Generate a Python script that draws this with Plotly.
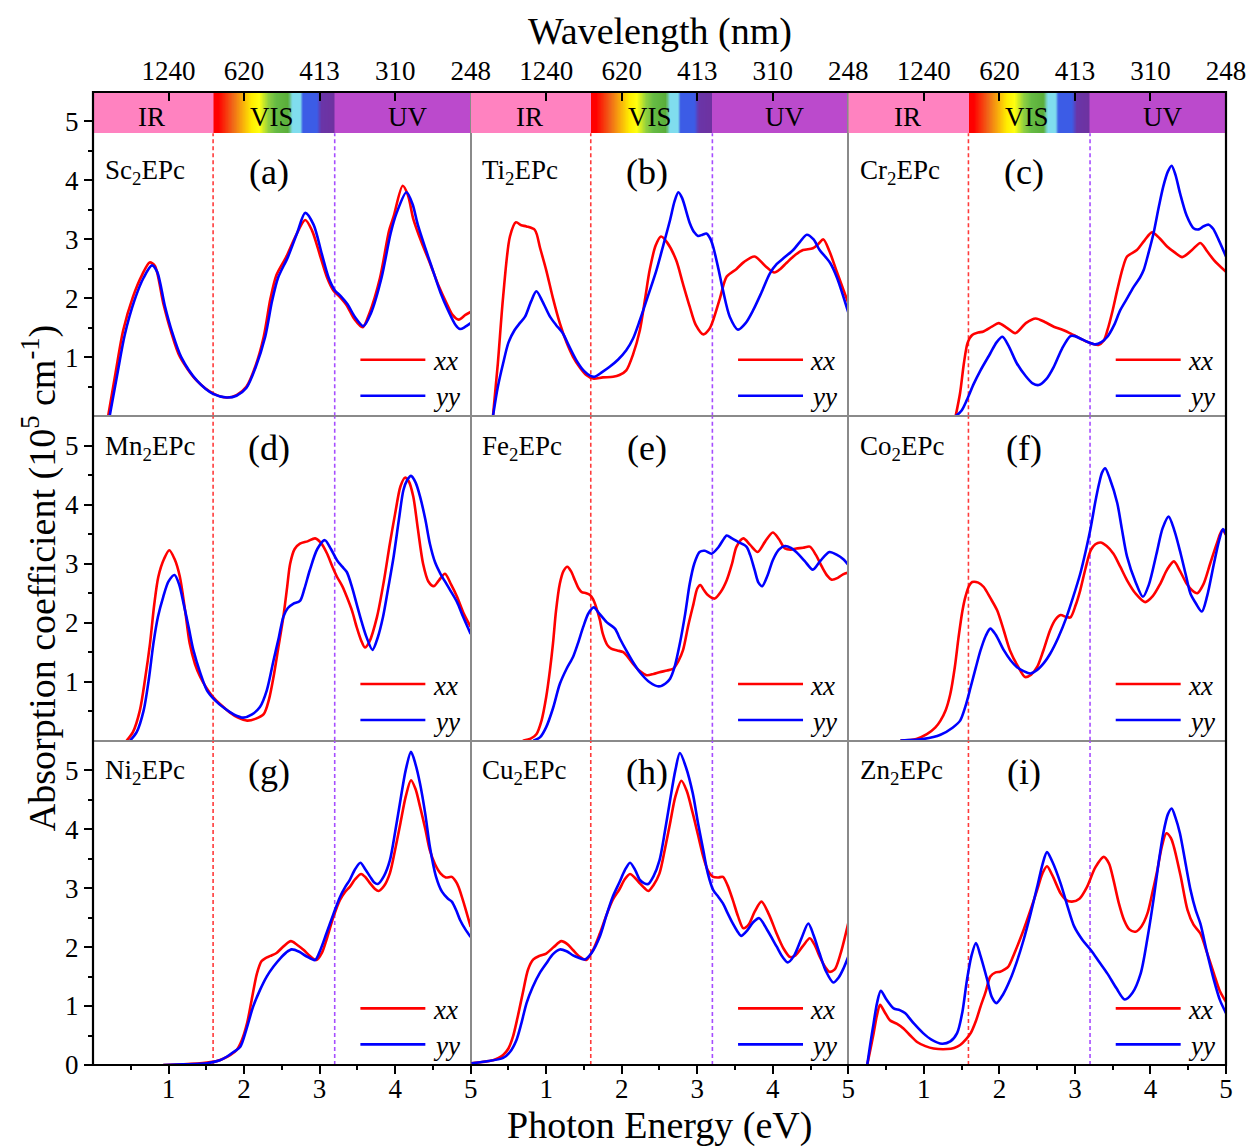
import numpy as np
import plotly.graph_objects as go

# ---------------------------------------------------------------- data
# Absorption spectra: (photon energy in eV, absorption coefficient in 1e5 cm^-1)
SC_XX = [(0.20,0),(0.30,0.75),(0.40,1.46),(0.53,2.03),(0.65,2.40),(0.75,2.61),(0.82,2.55),(0.93,1.92),(1.03,1.45),(1.15,1.01),(1.37,0.61),(1.59,0.39),(1.77,0.32),(1.90,0.36),(2.03,0.50),(2.15,0.85),(2.26,1.35),(2.35,2.0),(2.43,2.40),(2.56,2.71),(2.68,3.05),(2.81,3.33),(2.90,3.15),(3.01,2.71),(3.10,2.35),(3.18,2.14),(3.27,2.02),(3.36,1.88),(3.46,1.65),(3.57,1.51),(3.66,1.75),(3.80,2.35),(3.92,3.15),(3.98,3.39),(4.10,3.91),(4.17,3.75),(4.24,3.35),(4.35,2.95),(4.46,2.60),(4.58,2.20),(4.68,1.92),(4.76,1.72),(4.84,1.64),(4.93,1.72),(5.0,1.77)]
SC_YY = [(0.22,0),(0.32,0.7),(0.42,1.38),(0.55,1.97),(0.67,2.35),(0.78,2.56),(0.85,2.45),(0.95,1.88),(1.05,1.42),(1.17,1.0),(1.38,0.60),(1.59,0.38),(1.77,0.32),(1.90,0.35),(2.03,0.48),(2.15,0.82),(2.28,1.35),(2.37,1.95),(2.45,2.35),(2.58,2.70),(2.70,3.10),(2.81,3.45),(2.92,3.25),(3.03,2.75),(3.12,2.35),(3.20,2.14),(3.28,2.04),(3.37,1.90),(3.47,1.68),(3.58,1.53),(3.68,1.75),(3.82,2.35),(3.94,3.10),(4.02,3.45),(4.15,3.80),(4.23,3.60),(4.30,3.25),(4.40,2.85),(4.48,2.55),(4.60,2.10),(4.70,1.80),(4.80,1.55),(4.86,1.48),(4.93,1.52),(5.0,1.58)]

TI_XX = [(0.295,0),(0.36,0.9),(0.43,2.03),(0.52,3.05),(0.60,3.29),(0.67,3.24),(0.74,3.22),(0.85,3.16),(0.92,2.85),(1.00,2.48),(1.09,2.0),(1.18,1.58),(1.27,1.25),(1.355,1.01),(1.45,0.82),(1.53,0.70),(1.62,0.64),(1.75,0.66),(1.885,0.67),(1.97,0.70),(2.06,0.78),(2.15,1.05),(2.24,1.46),(2.31,2.0),(2.37,2.48),(2.45,2.90),(2.52,3.05),(2.60,2.95),(2.72,2.65),(2.81,2.25),(2.90,1.86),(2.98,1.55),(3.08,1.39),(3.16,1.48),(3.21,1.63),(3.30,2.0),(3.39,2.37),(3.52,2.50),(3.62,2.62),(3.76,2.71),(3.90,2.55),(4.02,2.44),(4.10,2.50),(4.18,2.60),(4.30,2.74),(4.40,2.82),(4.53,2.85),(4.60,2.92),(4.67,3.00),(4.75,2.80),(4.84,2.48),(4.92,2.20),(5.0,1.92)]
TI_YY = [(0.295,0),(0.36,0.5),(0.43,0.90),(0.50,1.25),(0.58,1.46),(0.65,1.58),(0.72,1.69),(0.80,1.95),(0.87,2.12),(0.95,1.95),(1.05,1.69),(1.13,1.55),(1.22,1.41),(1.30,1.20),(1.40,0.95),(1.50,0.77),(1.58,0.69),(1.64,0.67),(1.74,0.75),(1.84,0.84),(1.95,0.96),(2.06,1.12),(2.15,1.32),(2.24,1.63),(2.35,2.05),(2.46,2.48),(2.55,2.90),(2.64,3.33),(2.70,3.65),(2.75,3.80),(2.80,3.70),(2.90,3.28),(2.96,3.12),(3.01,3.06),(3.07,3.08),(3.12,3.10),(3.17,3.02),(3.21,2.88),(3.28,2.50),(3.34,2.14),(3.43,1.69),(3.54,1.47),(3.64,1.58),(3.74,1.80),(3.85,2.10),(3.96,2.42),(4.05,2.58),(4.14,2.68),(4.27,2.82),(4.36,2.96),(4.45,3.08),(4.54,3.00),(4.62,2.82),(4.70,2.70),(4.76,2.60),(4.85,2.35),(5.0,1.76)]

CR_XX = [(1.42,0),(1.48,0.40),(1.53,0.90),(1.58,1.25),(1.64,1.38),(1.72,1.42),(1.79,1.44),(1.90,1.52),(1.99,1.58),(2.10,1.50),(2.21,1.41),(2.35,1.58),(2.48,1.66),(2.60,1.60),(2.72,1.52),(2.85,1.46),(2.98,1.38),(3.15,1.27),(3.31,1.21),(3.38,1.28),(3.43,1.46),(3.50,1.80),(3.56,2.14),(3.63,2.50),(3.69,2.71),(3.82,2.82),(3.92,2.98),(4.02,3.12),(4.12,3.02),(4.22,2.88),(4.32,2.78),(4.42,2.70),(4.55,2.82),(4.66,2.94),(4.75,2.80),(4.84,2.65),(5.0,2.45)]
CR_YY = [(1.42,0),(1.50,0.10),(1.57,0.28),(1.66,0.55),(1.75,0.78),(1.88,1.07),(1.96,1.25),(2.04,1.35),(2.12,1.20),(2.23,0.90),(2.35,0.68),(2.44,0.56),(2.52,0.53),(2.62,0.63),(2.72,0.84),(2.83,1.15),(2.94,1.36),(3.00,1.36),(3.07,1.32),(3.17,1.26),(3.27,1.22),(3.35,1.26),(3.43,1.35),(3.52,1.55),(3.60,1.80),(3.70,2.02),(3.78,2.20),(3.86,2.35),(3.91,2.48),(3.97,2.75),(4.04,3.10),(4.11,3.55),(4.17,3.90),(4.23,4.15),(4.28,4.25),(4.33,4.10),(4.39,3.79),(4.48,3.40),(4.57,3.19),(4.64,3.17),(4.70,3.22),(4.77,3.25),(4.83,3.18),(4.90,3.00),(5.0,2.71)]

MN_XX = [(0.445,0),(0.53,0.15),(0.62,0.51),(0.69,1.05),(0.755,1.65),(0.81,2.30),(0.865,2.78),(0.94,3.08),(1.01,3.23),(1.08,3.08),(1.15,2.78),(1.22,2.20),(1.28,1.65),(1.35,1.30),(1.42,1.08),(1.50,0.90),(1.59,0.74),(1.70,0.60),(1.81,0.48),(1.92,0.39),(2.04,0.34),(2.15,0.37),(2.26,0.45),(2.33,0.70),(2.39,1.08),(2.45,1.55),(2.52,2.10),(2.57,2.60),(2.61,3.00),(2.67,3.25),(2.74,3.34),(2.84,3.38),(2.94,3.43),(3.02,3.35),(3.10,3.17),(3.17,2.95),(3.23,2.78),(3.30,2.62),(3.36,2.44),(3.43,2.20),(3.49,1.93),(3.55,1.70),(3.60,1.58),(3.66,1.68),(3.76,2.10),(3.85,2.70),(3.93,3.34),(4.00,3.85),(4.07,4.31),(4.13,4.46),(4.18,4.40),(4.24,4.14),(4.30,3.60),(4.37,3.00),(4.44,2.70),(4.51,2.62),(4.58,2.72),(4.66,2.83),(4.74,2.65),(4.82,2.44),(4.91,2.15),(5.0,1.93)]
MN_YY = [(0.49,0),(0.58,0.15),(0.67,0.51),(0.74,1.05),(0.80,1.65),(0.86,2.10),(0.93,2.44),(1.00,2.70),(1.08,2.81),(1.14,2.65),(1.20,2.32),(1.27,1.90),(1.33,1.53),(1.42,1.15),(1.51,0.85),(1.62,0.68),(1.75,0.54),(1.87,0.44),(1.99,0.39),(2.10,0.44),(2.21,0.57),(2.30,0.85),(2.39,1.36),(2.46,1.75),(2.52,2.10),(2.58,2.25),(2.65,2.32),(2.74,2.37),(2.80,2.58),(2.87,2.89),(2.97,3.25),(3.07,3.40),(3.15,3.25),(3.23,3.06),(3.30,2.95),(3.36,2.86),(3.43,2.60),(3.49,2.32),(3.56,2.00),(3.62,1.76),(3.70,1.54),(3.77,1.75),(3.84,2.10),(3.91,2.60),(3.98,3.12),(4.05,3.75),(4.11,4.25),(4.16,4.42),(4.21,4.49),(4.27,4.38),(4.33,4.14),(4.40,3.75),(4.46,3.34),(4.53,3.02),(4.60,2.83),(4.66,2.70),(4.73,2.55),(4.82,2.35),(4.90,2.10),(5.0,1.81)]

FE_XX = [(0.69,0),(0.80,0.04),(0.87,0.11),(0.94,0.35),(1.00,0.74),(1.05,1.20),(1.09,1.65),(1.13,2.20),(1.18,2.66),(1.23,2.88),(1.28,2.95),(1.33,2.87),(1.38,2.72),(1.43,2.58),(1.47,2.52),(1.53,2.50),(1.58,2.47),(1.62,2.40),(1.66,2.27),(1.71,2.05),(1.75,1.81),(1.81,1.62),(1.86,1.56),(1.94,1.53),(2.02,1.50),(2.08,1.42),(2.15,1.30),(2.24,1.18),(2.33,1.11),(2.42,1.13),(2.50,1.16),(2.60,1.19),(2.68,1.22),(2.75,1.35),(2.81,1.53),(2.88,1.95),(2.95,2.32),(3.00,2.58),(3.04,2.64),(3.09,2.55),(3.14,2.47),(3.23,2.41),(3.31,2.52),(3.39,2.72),(3.46,3.00),(3.52,3.29),(3.61,3.43),(3.70,3.32),(3.80,3.20),(3.90,3.38),(4.00,3.53),(4.08,3.42),(4.16,3.26),(4.24,3.24),(4.31,3.26),(4.40,3.27),(4.49,3.29),(4.57,3.15),(4.65,2.95),(4.72,2.80),(4.78,2.73),(4.86,2.76),(4.93,2.82),(5.0,2.85)]
FE_YY = [(0.83,0),(0.92,0.06),(1.00,0.23),(1.09,0.55),(1.18,0.96),(1.27,1.22),(1.355,1.42),(1.42,1.65),(1.49,1.93),(1.56,2.16),(1.63,2.26),(1.70,2.16),(1.80,2.01),(1.91,1.90),(1.98,1.72),(2.06,1.53),(2.15,1.33),(2.24,1.16),(2.37,0.99),(2.49,0.92),(2.58,0.97),(2.64,1.05),(2.70,1.25),(2.77,1.65),(2.84,2.15),(2.90,2.66),(2.96,3.00),(3.03,3.20),(3.10,3.22),(3.19,3.17),(3.28,3.28),(3.34,3.40),(3.39,3.48),(3.46,3.43),(3.54,3.37),(3.65,3.29),(3.70,3.15),(3.76,2.89),(3.81,2.68),(3.86,2.62),(3.93,2.80),(4.00,3.06),(4.08,3.24),(4.16,3.30),(4.24,3.27),(4.31,3.20),(4.42,3.05),(4.53,2.90),(4.63,3.05),(4.75,3.20),(4.85,3.15),(4.93,3.08),(5.0,2.98)]

CO_XX = [(0.69,0),(0.90,0.03),(1.04,0.11),(1.15,0.22),(1.22,0.34),(1.29,0.52),(1.35,0.79),(1.41,1.25),(1.46,1.76),(1.51,2.20),(1.55,2.44),(1.60,2.63),(1.64,2.69),(1.72,2.68),(1.79,2.61),(1.88,2.42),(1.97,2.21),(2.06,1.86),(2.14,1.53),(2.25,1.25),(2.34,1.08),(2.42,1.12),(2.50,1.25),(2.58,1.52),(2.67,1.87),(2.74,2.05),(2.81,2.13),(2.88,2.10),(2.94,2.09),(3.01,2.30),(3.07,2.55),(3.14,2.92),(3.21,3.23),(3.27,3.33),(3.34,3.36),(3.42,3.30),(3.51,3.17),(3.60,2.95),(3.69,2.72),(3.80,2.50),(3.93,2.35),(4.03,2.45),(4.13,2.66),(4.22,2.90),(4.31,3.04),(4.39,2.88),(4.48,2.66),(4.55,2.55),(4.62,2.50),(4.70,2.65),(4.79,3.00),(4.88,3.35),(4.95,3.57),(5.0,3.49)]
CO_YY = [(0.69,0),(1.00,0.03),(1.22,0.10),(1.38,0.22),(1.48,0.34),(1.55,0.58),(1.62,0.91),(1.69,1.25),(1.75,1.53),(1.82,1.78),(1.88,1.90),(1.95,1.80),(2.06,1.53),(2.15,1.36),(2.23,1.25),(2.32,1.18),(2.41,1.14),(2.50,1.20),(2.59,1.32),(2.67,1.47),(2.78,1.75),(2.89,2.10),(2.98,2.45),(3.07,2.83),(3.14,3.20),(3.21,3.62),(3.27,4.05),(3.32,4.36),(3.36,4.55),(3.40,4.62),(3.46,4.45),(3.56,4.03),(3.62,3.60),(3.69,3.12),(3.80,2.70),(3.90,2.44),(3.98,2.65),(4.08,3.17),(4.16,3.60),(4.24,3.80),(4.32,3.55),(4.40,3.17),(4.47,2.80),(4.53,2.49),(4.60,2.33),(4.68,2.19),(4.75,2.45),(4.84,3.00),(4.91,3.40),(4.96,3.59),(5.0,3.50)]

NI_XX = [(0.93,0),(1.20,0.01),(1.51,0.04),(1.65,0.07),(1.73,0.11),(1.82,0.17),(1.90,0.25),(1.97,0.42),(2.04,0.71),(2.10,1.10),(2.17,1.55),(2.23,1.76),(2.28,1.81),(2.35,1.85),(2.43,1.90),(2.53,2.02),(2.62,2.10),(2.70,2.04),(2.79,1.95),(2.88,1.84),(2.96,1.78),(3.03,1.90),(3.09,2.12),(3.18,2.50),(3.27,2.80),(3.34,2.94),(3.40,3.02),(3.47,3.15),(3.55,3.24),(3.61,3.18),(3.67,3.08),(3.73,2.99),(3.78,2.95),(3.85,3.03),(3.93,3.25),(4.00,3.65),(4.07,4.10),(4.14,4.55),(4.21,4.83),(4.27,4.68),(4.33,4.38),(4.40,4.00),(4.46,3.64),(4.53,3.40),(4.60,3.25),(4.67,3.18),(4.75,3.19),(4.80,3.12),(4.84,3.02),(4.92,2.70),(5.0,2.34)]
NI_YY = [(0.93,0),(1.20,0.01),(1.51,0.03),(1.68,0.08),(1.77,0.14),(1.86,0.22),(1.95,0.31),(2.03,0.60),(2.12,0.99),(2.21,1.27),(2.30,1.50),(2.39,1.67),(2.48,1.81),(2.56,1.91),(2.63,1.96),(2.73,1.92),(2.83,1.84),(2.94,1.78),(3.01,1.95),(3.09,2.23),(3.18,2.55),(3.27,2.85),(3.34,3.02),(3.40,3.14),(3.47,3.32),(3.54,3.43),(3.60,3.33),(3.67,3.19),(3.72,3.10),(3.77,3.07),(3.85,3.20),(3.93,3.47),(4.00,3.95),(4.07,4.49),(4.14,5.00),(4.21,5.31),(4.27,5.10),(4.33,4.77),(4.40,4.25),(4.46,3.70),(4.54,3.20),(4.62,2.94),(4.70,2.82),(4.75,2.77),(4.81,2.62),(4.86,2.46),(4.93,2.30),(5.0,2.17)]

CU_XX = [(0.01,0.03),(0.15,0.05),(0.295,0.08),(0.37,0.12),(0.43,0.17),(0.50,0.28),(0.56,0.48),(0.62,0.80),(0.69,1.22),(0.76,1.62),(0.83,1.79),(0.91,1.85),(1.00,1.89),(1.10,2.00),(1.20,2.10),(1.28,2.05),(1.355,1.95),(1.44,1.84),(1.53,1.78),(1.62,1.95),(1.71,2.23),(1.80,2.55),(1.88,2.80),(1.97,2.98),(2.04,3.15),(2.11,3.24),(2.17,3.18),(2.24,3.08),(2.30,3.00),(2.35,2.95),(2.42,3.05),(2.50,3.25),(2.57,3.65),(2.64,4.10),(2.71,4.55),(2.79,4.82),(2.86,4.65),(2.94,4.27),(3.01,3.90),(3.08,3.53),(3.14,3.30),(3.21,3.19),(3.28,3.18),(3.34,3.19),(3.40,3.05),(3.47,2.80),(3.54,2.52),(3.61,2.32),(3.68,2.38),(3.76,2.60),(3.85,2.77),(3.95,2.55),(4.05,2.23),(4.14,1.98),(4.23,1.83),(4.30,1.86),(4.40,2.02),(4.49,2.15),(4.56,2.02),(4.62,1.84),(4.70,1.65),(4.75,1.58),(4.82,1.62),(4.90,1.90),(5.0,2.41)]
CU_YY = [(0.01,0.03),(0.20,0.06),(0.43,0.12),(0.52,0.22),(0.605,0.42),(0.67,0.70),(0.74,1.05),(0.82,1.32),(0.91,1.55),(1.00,1.72),(1.09,1.88),(1.18,1.96),(1.27,1.93),(1.355,1.86),(1.43,1.82),(1.51,1.79),(1.60,1.90),(1.71,2.18),(1.80,2.55),(1.88,2.85),(1.97,3.10),(2.04,3.30),(2.11,3.43),(2.18,3.30),(2.24,3.14),(2.30,3.08),(2.35,3.07),(2.42,3.20),(2.50,3.47),(2.57,3.95),(2.64,4.49),(2.71,5.00),(2.77,5.29),(2.85,5.05),(2.94,4.61),(3.01,4.10),(3.08,3.64),(3.14,3.25),(3.21,2.97),(3.28,2.85),(3.34,2.74),(3.40,2.58),(3.47,2.40),(3.53,2.27),(3.58,2.19),(3.66,2.28),(3.74,2.42),(3.82,2.49),(3.93,2.28),(4.05,2.01),(4.13,1.83),(4.20,1.74),(4.28,1.85),(4.38,2.15),(4.47,2.40),(4.54,2.20),(4.62,1.89),(4.70,1.60),(4.80,1.40),(4.87,1.48),(4.94,1.65),(5.0,1.84)]

ZN_XX = [(0.25,0),(0.29,0.25),(0.335,0.54),(0.38,0.85),(0.42,1.02),(0.48,0.90),(0.55,0.76),(0.64,0.70),(0.73,0.62),(0.82,0.50),(0.91,0.39),(1.02,0.32),(1.13,0.28),(1.31,0.27),(1.40,0.29),(1.48,0.34),(1.56,0.44),(1.62,0.54),(1.69,0.75),(1.75,0.99),(1.82,1.25),(1.88,1.50),(1.95,1.57),(2.01,1.58),(2.07,1.62),(2.12,1.67),(2.20,1.90),(2.32,2.29),(2.41,2.62),(2.50,2.97),(2.57,3.25),(2.63,3.37),(2.70,3.22),(2.81,2.91),(2.88,2.80),(2.96,2.77),(3.06,2.82),(3.16,3.02),(3.27,3.35),(3.38,3.53),(3.45,3.42),(3.51,3.14),(3.58,2.75),(3.65,2.46),(3.72,2.30),(3.80,2.26),(3.88,2.35),(3.96,2.57),(4.03,2.95),(4.09,3.30),(4.15,3.70),(4.21,3.93),(4.27,3.85),(4.31,3.70),(4.40,3.20),(4.49,2.63),(4.57,2.38),(4.66,2.23),(4.75,1.90),(4.84,1.55),(4.92,1.25),(5.0,1.07)]
ZN_YY = [(0.25,0),(0.29,0.35),(0.335,0.71),(0.38,1.05),(0.43,1.26),(0.50,1.12),(0.60,0.96),(0.68,0.93),(0.75,0.88),(0.87,0.70),(0.99,0.54),(1.10,0.43),(1.24,0.36),(1.35,0.40),(1.44,0.54),(1.51,0.90),(1.57,1.44),(1.63,1.85),(1.69,2.07),(1.75,1.85),(1.84,1.44),(1.90,1.15),(1.96,1.05),(2.05,1.20),(2.14,1.44),(2.23,1.75),(2.32,2.12),(2.41,2.55),(2.50,3.02),(2.57,3.40),(2.63,3.61),(2.70,3.45),(2.81,3.08),(2.90,2.70),(2.99,2.35),(3.10,2.12),(3.21,1.95),(3.32,1.75),(3.43,1.55),(3.55,1.30),(3.66,1.11),(3.76,1.22),(3.87,1.55),(3.96,2.15),(4.04,2.80),(4.11,3.45),(4.17,3.93),(4.23,4.25),(4.28,4.35),(4.33,4.20),(4.39,3.93),(4.46,3.45),(4.53,2.97),(4.60,2.62),(4.66,2.40),(4.75,1.90),(4.84,1.44),(4.92,1.10),(5.0,0.88)]

METALS = ["Sc", "Ti", "Cr", "Mn", "Fe", "Co", "Ni", "Cu", "Zn"]
LETTERS = ["a", "b", "c", "d", "e", "f", "g", "h", "i"]
SERIES = [(SC_XX, SC_YY), (TI_XX, TI_YY), (CR_XX, CR_YY),
          (MN_XX, MN_YY), (FE_XX, FE_YY), (CO_XX, CO_YY),
          (NI_XX, NI_YY), (CU_XX, CU_YY), (ZN_XX, ZN_YY)]

ENERGY_TICKS = [1, 2, 3, 4, 5]
WAVELENGTH_LABELS = ["1240", "620", "413", "310", "248"]

# Spectral-region boundaries (eV) and the colour band drawn across the top row
VIS_EDGE_EV = 1.59
UV_EDGE_EV = 3.20
BAND_STOPS_EV = [0.0, 1.59, 1.595, 1.66, 1.85, 2.10, 2.20, 2.32, 2.42, 2.58, 2.64, 2.74, 2.78, 2.96, 3.02, 3.19, 3.195, 5.0]
BAND_COLORS = ["#FF82C0", "#FF82C0", "#FF0000", "#FF0000", "#F06818", "#FFEE00", "#FFFF10", "#90D040",
               "#66BB44", "#5AAE3A", "#80DDEE", "#80DDEE", "#3C5CE6", "#3C5CE6", "#6A35A8", "#6E32A0",
               "#BB4ACC", "#BB4ACC"]
BAND_Y = (4.8, 5.5)
BAND_LABELS = [("IR", 0.78), ("VIS", 2.37), ("UV", 4.16)]

# ---------------------------------------------------------------- figure
FONT = "Liberation Serif, Times New Roman, serif"
RED = "#FF0000"
BLUE = "#0000FF"
FRAME_GREY = "#8a8a8a"

fig = go.Figure()
shapes = []
annotations = []

band_edges = np.linspace(0, 5, 1001)
band_centres = 0.5 * (band_edges[:-1] + band_edges[1:])
band_scale = [[s / 5.0, c] for s, c in zip(BAND_STOPS_EV, BAND_COLORS)]

for k in range(9):
    r, c = divmod(k, 3)
    sfx = "" if k == 0 else str(k + 1)
    xref, yref = "x" + sfx, "y" + sfx
    xd = [c / 3, (c + 1) / 3]
    yd = [1 - (r + 1) / 3, 1 - r / 3]

    if r == 0:
        fig.add_trace(go.Heatmap(
            x=band_edges, y=list(BAND_Y), z=[band_centres],
            zmin=0, zmax=5, colorscale=band_scale, showscale=False,
            hoverinfo="skip", xaxis=xref, yaxis=yref))

    xx, yy = SERIES[k]
    for pts, col, nm in ((xx, RED, "xx"), (yy, BLUE, "yy")):
        fig.add_trace(go.Scatter(
            x=[p[0] for p in pts], y=[p[1] for p in pts], mode="lines",
            line=dict(color=col, width=2.6, shape="spline", smoothing=0.8),
            name=nm, showlegend=False, xaxis=xref, yaxis=yref))

    xaxis = dict(domain=xd, range=[0, 5], anchor=yref, showline=True,
                 linecolor=FRAME_GREY, linewidth=1, mirror=True,
                 showgrid=False, zeroline=False, fixedrange=True, automargin=False,
                 tickfont=dict(size=27, family=FONT, color="black"))
    if r == 0:
        xaxis.update(side="top", ticks="inside", tickmode="array",
                     tickvals=ENERGY_TICKS, ticktext=WAVELENGTH_LABELS,
                     ticklen=9, tickwidth=2, tickcolor="black")
    elif r == 2:
        xaxis.update(side="bottom", ticks="outside", tickmode="array",
                     tickvals=ENERGY_TICKS, ticktext=[str(t) for t in ENERGY_TICKS],
                     ticklen=8, tickwidth=2, tickcolor="black", ticklabelstandoff=-8,
                     minor=dict(ticks="outside", tickmode="array",
                                tickvals=[0.5, 1.5, 2.5, 3.5, 4.5],
                                ticklen=4, tickwidth=2, tickcolor="black"))
    else:
        xaxis.update(ticks="", showticklabels=False)

    yaxis = dict(domain=yd, range=[0, 5.5], anchor=xref, showline=True,
                 linecolor=FRAME_GREY, linewidth=1, mirror=True,
                 showgrid=False, zeroline=False, fixedrange=True, automargin=False,
                 tickfont=dict(size=27, family=FONT, color="black"))
    if c == 0:
        vals = [0, 1, 2, 3, 4, 5] if r == 2 else [1, 2, 3, 4, 5]
        yaxis.update(ticks="outside", tickmode="array", tickvals=vals,
                     ticktext=[str(v) for v in vals], ticklen=8, tickwidth=2,
                     tickcolor="black",
                     minor=dict(ticks="outside", tickmode="array",
                                tickvals=[0.5, 1.5, 2.5, 3.5, 4.5],
                                ticklen=4, tickwidth=2, tickcolor="black"))
    else:
        yaxis.update(ticks="", showticklabels=False)

    fig.update_layout({"xaxis" + sfx: xaxis, "yaxis" + sfx: yaxis})

    # VIS / UV boundary markers
    ytop = BAND_Y[0] if r == 0 else 5.5
    shapes.append(dict(type="line", xref=xref, yref=yref, x0=VIS_EDGE_EV, x1=VIS_EDGE_EV,
                       y0=0, y1=ytop, layer="below",
                       line=dict(color="#FF3B3B", width=1.6, dash="4px,3px")))
    shapes.append(dict(type="line", xref=xref, yref=yref, x0=UV_EDGE_EV, x1=UV_EDGE_EV,
                       y0=0, y1=ytop, layer="below",
                       line=dict(color="#A64DFF", width=1.6, dash="4px,3px")))

    # legend keys
    for ly, col, txt in ((0.96, RED, "xx"), (0.35, BLUE, "yy")):
        shapes.append(dict(type="line", xref=xref, yref=yref, x0=3.54, x1=4.40,
                           y0=ly, y1=ly, line=dict(color=col, width=2.6)))
        annotations.append(dict(x=4.47, y=ly - 0.03, xref=xref, yref=yref, text=f"<i>{txt}</i>",
                                showarrow=False, xanchor="left", yanchor="middle",
                                font=dict(size=27, family=FONT, color="black")))

    # panel labels
    ly = 4.15 if r == 0 else 4.97
    annotations.append(dict(x=0.13, y=ly, xref=xref, yref=yref,
                            text=f"{METALS[k]}<sub>2</sub>EPc", showarrow=False,
                            xanchor="left", yanchor="middle",
                            font=dict(size=27, family=FONT, color="black")))
    annotations.append(dict(x=2.33, y=ly, xref=xref, yref=yref,
                            text=f"({LETTERS[k]})", showarrow=False,
                            xanchor="center", yanchor="middle",
                            font=dict(size=36, family=FONT, color="black")))

    if r == 0:
        for txt, xe in BAND_LABELS:
            annotations.append(dict(x=xe, y=5.08, xref=xref, yref=yref, text=txt,
                                    showarrow=False, xanchor="center", yanchor="middle",
                                    font=dict(size=27, family=FONT, color="black")))

# heavy outer frame
shapes.append(dict(type="rect", xref="paper", yref="paper", x0=0, x1=1, y0=0, y1=1,
                   line=dict(color="black", width=2.2), layer="above"))

# axis titles
annotations += [
    dict(x=0.5, y=1.062, xref="paper", yref="paper", text="Wavelength (nm)",
         showarrow=False, xanchor="center", yanchor="middle",
         font=dict(size=38, family=FONT, color="black")),
    dict(x=0.5, y=-0.062, xref="paper", yref="paper", text="Photon Energy (eV)",
         showarrow=False, xanchor="center", yanchor="middle",
         font=dict(size=38, family=FONT, color="black")),
    dict(x=-0.047, y=0.5, xref="paper", yref="paper",
         text="Absorption coefficient (10<sup>5</sup> cm<sup>-1</sup>)",
         showarrow=False, xanchor="center", yanchor="middle", textangle=-90,
         font=dict(size=38, family=FONT, color="black")),
]

fig.update_layout(
    width=1249, height=1147,
    margin=dict(l=93, r=23, t=92, b=82),
    paper_bgcolor="white", plot_bgcolor="white",
    font=dict(family=FONT, color="black"),
    showlegend=False,
    shapes=shapes, annotations=annotations,
)

fig.write_html("out.html")
